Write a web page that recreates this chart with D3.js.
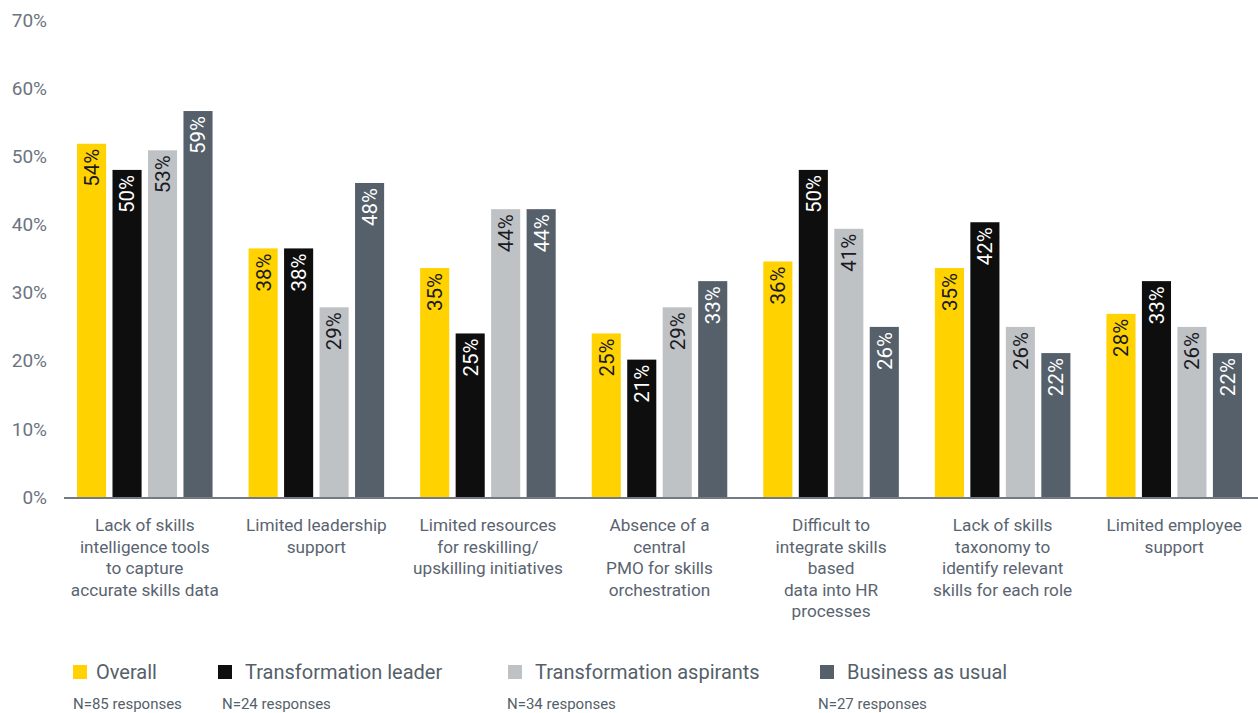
<!DOCTYPE html>
<html>
<head>
<meta charset="utf-8">
<script src="https://cdn.jsdelivr.net/npm/d3@7"></script>
<style>
  body { margin: 0; background: #fff; }
  text { font-family: Roboto, "Noto Sans", sans-serif; }
</style>
</head>
<body>
<div id="chart"></div>
<script>
// Chart data
const categories = [
    ["Lack of skills", "intelligence tools", "to capture", "accurate skills data"],
    ["Limited leadership", "support"],
    ["Limited resources", "for reskilling/", "upskilling initiatives"],
    ["Absence of a", "central", "PMO for skills", "orchestration"],
    ["Difficult to", "integrate skills", "based", "data into HR", "processes"],
    ["Lack of skills", "taxonomy to", "identify relevant", "skills for each role"],
    ["Limited employee", "support"]
];
const seriesNames = ["Overall", "Transformation leader", "Transformation aspirants", "Business as usual"];
const seriesN = ["N=85 responses", "N=24 responses", "N=34 responses", "N=27 responses"];
const overall = [54, 38, 35, 25, 36, 35, 28];
const leader = [50, 38, 25, 21, 50, 42, 33];
const aspirants = [53, 29, 44, 29, 41, 26, 26];
const business = [59, 48, 44, 33, 26, 22, 22];
const yTicks = [0, 10, 20, 30, 40, 50, 60, 70];

const colors = ["#FFD200", "#0E0E0E", "#BFC2C5", "#55606B"];
const labelColors = ["#1A1A24", "#FFFFFF", "#1A1A24", "#FFFFFF"];
const allSeries = [overall, leader, aspirants, business];

const width = 1258;
const height = 713;
const y0 = 497;

const svg = d3.select('#chart')
    .append('svg')
    .attr('width', width)
    .attr('height', height);

// axis scale (tick labels)
const y = d3.scaleLinear().domain([0, 70]).range([y0, 20]);
// bars in the source are drawn slightly shorter than their labels
const yBar = d3.scaleLinear().domain([0, 70 / 0.96]).range([y0, 20]);

const x0 = d3.scaleBand()
    .domain(d3.range(categories.length))
    .range([59, 1260])
    .paddingInner(0.21)
    .paddingOuter(0.105);

const x1 = d3.scaleBand()
    .domain(d3.range(seriesNames.length))
    .range([0, x0.bandwidth()])
    .paddingInner(0.18);

// y tick labels
svg.append("g")
    .selectAll("text")
    .data(yTicks)
    .enter()
    .append("text")
    .attr("x", 47)
    .attr("y", d => y(d))
    .attr("dy", "0.35em")
    .attr("text-anchor", "end")
    .style("font-size", "19px")
    .style("fill", "#6B7480")
    .text(d => d + "%");

// bars
const groups = svg.append("g")
    .selectAll("g")
    .data(categories)
    .enter()
    .append("g")
    .attr("transform", (d, i) => `translate(${x0(i)},0)`);

groups.each(function(cat, ci) {
    const g = d3.select(this);
    allSeries.forEach((vals, si) => {
        const v = vals[ci];
        const bx = x1(si);
        g.append("rect")
            .attr("x", bx)
            .attr("y", yBar(v))
            .attr("width", x1.bandwidth())
            .attr("height", y0 - yBar(v))
            .style("fill", colors[si]);

        const cx = bx + x1.bandwidth() / 2;
        const ty = yBar(v) + 5;
        g.append("text")
            .attr("transform", `translate(${cx},${ty}) rotate(-90)`)
            .attr("text-anchor", "end")
            .attr("dy", "0.36em")
            .style("font-size", "20.5px")
            .style("fill", labelColors[si])
            .text(v + "%");
    });

    // category label
    const t = g.append("text")
        .attr("text-anchor", "middle")
        .style("font-size", "17.2px")
        .style("fill", "#5A6470");
    cat.forEach((line, li) => {
        t.append("tspan")
            .attr("x", x0.bandwidth() / 2)
            .attr("y", 531 + li * 21.5)
            .text(line);
    });
});

// baseline axis
svg.append("line")
    .attr("x1", 64)
    .attr("x2", 1258)
    .attr("y1", y0 + 1)
    .attr("y2", y0 + 1)
    .style("stroke", "#747A84")
    .style("stroke-width", 2);

// legend
const legendX = [73, 218, 508, 820];
const legendNX = [73, 222, 507, 818];
const legend = svg.append("g");
seriesNames.forEach((name, i) => {
    legend.append("rect")
        .attr("x", legendX[i])
        .attr("y", 665)
        .attr("width", 14)
        .attr("height", 14)
        .style("fill", colors[i]);
    legend.append("text")
        .attr("x", legendX[i] + 23 + (i === 0 ? 0 : 4))
        .attr("y", 672)
        .attr("dy", "0.35em")
        .style("font-size", "20px")
        .style("fill", "#555F6A")
        .text(name);
    legend.append("text")
        .attr("x", legendNX[i])
        .attr("y", 704)
        .attr("dy", "0.35em")
        .style("font-size", "15px")
        .style("fill", "#555F6A")
        .text(seriesN[i]);
});
</script>
</body>
</html>
